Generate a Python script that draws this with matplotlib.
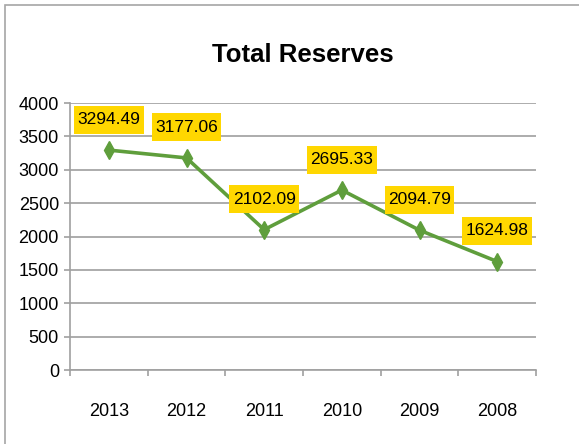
import matplotlib
matplotlib.use("Agg")
import matplotlib.pyplot as plt
from matplotlib.patches import Rectangle
from matplotlib.transforms import IdentityTransform
from matplotlib.ticker import FixedLocator, NullFormatter

years = ["2013", "2012", "2011", "2010", "2009", "2008"]
reserves = [3294.49, 3177.06, 2102.09, 2695.33, 2094.79, 1624.98]
y_ticks = [0, 500, 1000, 1500, 2000, 2500, 3000, 3500, 4000]

plt.rcParams["font.family"] = ["Liberation Sans", "DejaVu Sans"]

W, H = 579, 444
fig = plt.figure(figsize=(W / 100, H / 100), dpi=100)

# chart frame
fig.patches.append(Rectangle((5 / W, -0.1), 1.2, 1 - 5 / H + 0.1, transform=fig.transFigure,
                             fill=False, edgecolor="#a6a6a6", linewidth=1.2))

ax = fig.add_axes([70 / W, 1 - 370 / H, (536 - 70) / W, (370 - 103) / H])

x = [i + 0.5 for i in range(len(years))]
ax.plot(x, reserves, color="#5f9e3c", linewidth=2.6, marker="d", markersize=9,
        markerfacecolor="#5f9e3c", markeredgecolor="#5f9e3c", zorder=3)

labels = []
for xi, v in zip(x, reserves):
    t = ax.annotate(f"{v:.2f}", (xi, v), xytext=(0, 22), textcoords="offset points",
                    ha="center", va="center", fontsize=12.5, color="black", zorder=6)
    labels.append(t)

ax.set_xlim(0, len(years))
ax.set_ylim(0, 4000)
ax.set_yticks(y_ticks)
ax.set_yticklabels([str(t) for t in y_ticks], fontsize=13)

ax.xaxis.set_major_locator(FixedLocator(range(len(years) + 1)))
ax.xaxis.set_major_formatter(NullFormatter())
ax.set_xticks(x, minor=True)
ax.set_xticklabels(years, minor=True, fontsize=13)
ax.tick_params(axis="x", which="minor", length=0, pad=24)
ax.tick_params(axis="x", which="major", length=4, color="#a0a0a0", width=1.2)
ax.tick_params(axis="y", length=4, color="#a0a0a0", width=1.2, pad=4)

ax.grid(axis="y", color="#a6a6a6", linewidth=1.3)
ax.set_axisbelow(True)
for s in ("top", "right"):
    ax.spines[s].set_visible(False)
for s in ("left", "bottom"):
    ax.spines[s].set_color("#a0a0a0")
    ax.spines[s].set_linewidth(1.2)

fig.text(0.5 * (70 + 536) / W, 1 - 55 / H, "Total Reserves", ha="center", va="center",
         fontsize=18.5, fontweight="bold", color="black")

# yellow label boxes sized around each rendered label
fig.canvas.draw()
renderer = fig.canvas.get_renderer()
for t in labels:
    bb = t.get_window_extent(renderer)
    cx, cy = (bb.x0 + bb.x1) / 2, (bb.y0 + bb.y1) / 2
    w, h = bb.width + 7, 28
    box = Rectangle((cx - w / 2, cy - h / 2), w, h, transform=IdentityTransform(),
                    facecolor="#ffd700", edgecolor="none", zorder=5, clip_on=False)
    ax.add_artist(box)

fig.savefig("out.png", dpi=100)
